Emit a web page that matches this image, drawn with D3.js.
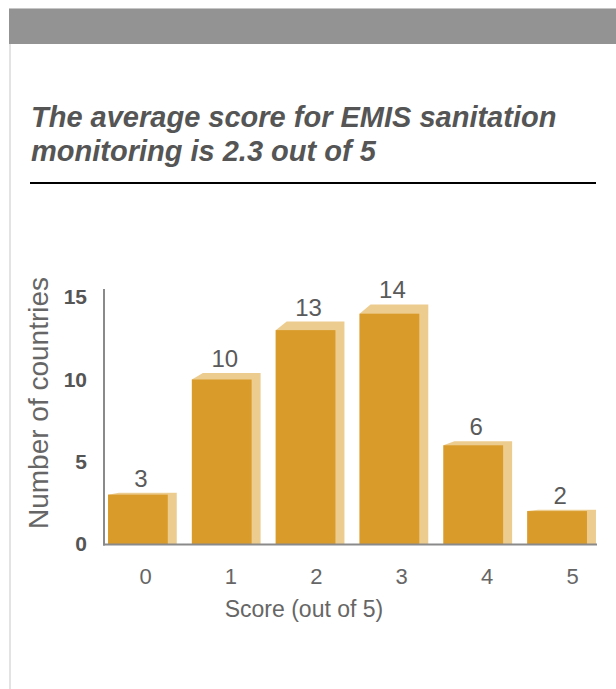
<!DOCTYPE html>
<html>
<head>
<meta charset="utf-8">
<style>
    body { margin: 0; background: #fff; font-family: "Liberation Sans", Arial, sans-serif; }
    svg { display: block; }
</style>
</head>
<body>
<script src="https://cdn.jsdelivr.net/npm/d3@7"></script>
<script>
    // chart data
    const scores = ["0", "1", "2", "3", "4", "5"]
    const counts = [3, 10, 13, 14, 6, 2]
    const yTicks = [0, 5, 10, 15]
    const titleLines = ["The average score for EMIS sanitation", "monitoring is 2.3 out of 5"]
    const xTitle = "Score (out of 5)"
    const yTitle = "Number of countries"

    var width = 616, height = 689
    var plotBase = 544, plotTop = 289
    var frontColor = "#d99b2a", sideColor = "#edcd8f"
    var depth = 9, lift = 0.04

    var svg = d3.select("body").append("svg")
        .attr("width", width)
        .attr("height", height)

    // card frame
    svg.append("line")
        .attr("x1", 10).attr("x2", 10).attr("y1", 8).attr("y2", height)
        .attr("stroke", "#e3e3e3").attr("stroke-width", 2)
    svg.append("rect")
        .attr("x", 9).attr("y", 8).attr("width", width - 9).attr("height", 36)
        .attr("fill", "#939393")
    svg.append("line")
        .attr("x1", 9).attr("x2", width).attr("y1", 8.5).attr("y2", 8.5)
        .attr("stroke", "#c6c6c6")

    // title
    svg.selectAll("text.title")
        .data(titleLines)
        .enter().append("text")
        .attr("class", "title")
        .attr("x", 31)
        .attr("y", (d, i) => 127 + i * 34)
        .style("font-size", "29px")
        .style("font-weight", "bold")
        .style("font-style", "italic")
        .style("fill", "#555")
        .text(d => d)

    svg.append("line")
        .attr("x1", 30).attr("x2", 596).attr("y1", 183).attr("y2", 183)
        .attr("stroke", "#000").attr("stroke-width", 2)

    // scales
    var data = scores.map((s, i) => ({score: s, count: counts[i]}))

    var x = d3.scaleBand()
        .domain(scores)
        .range([103, 601])
        .paddingInner(0.18)
        .paddingOuter(0.06)

    var xLabel = d3.scalePoint()
        .domain(scores)
        .range([145, 572])

    var y = d3.scaleLinear()
        .domain([0, 15.5])
        .range([plotBase, plotTop])

    var frontWidth = x.bandwidth() - depth

    // bars: light side/top face behind, front face on top
    var bars = svg.selectAll(".bar")
        .data(data)
        .enter().append("g")
        .attr("class", "bar")

    bars.append("path")
        .attr("fill", sideColor)
        .attr("d", d => {
            var x0 = x(d.score), x1 = x0 + frontWidth
            var yf = y(d.count), ys = y(d.count * (1 + lift))
            return `M${x0},${yf}L${x0 + 11},${ys}L${x1 + depth},${ys}L${x1 + depth},${plotBase}L${x0},${plotBase}Z`
        })

    bars.append("rect")
        .attr("fill", frontColor)
        .attr("x", d => x(d.score))
        .attr("y", d => y(d.count))
        .attr("width", frontWidth)
        .attr("height", d => plotBase - y(d.count))

    bars.append("text")
        .attr("x", d => x(d.score) + frontWidth / 2 + 3)
        .attr("y", d => y(d.count * (1 + lift)) - 6)
        .attr("text-anchor", "middle")
        .style("font-size", "24px")
        .style("fill", "#5a5a5a")
        .text(d => d.count)

    // axis lines
    svg.append("line")
        .attr("x1", 104).attr("x2", 104).attr("y1", plotTop).attr("y2", plotBase + 1.5)
        .attr("stroke", "#8a8a8a").attr("stroke-width", 2)
    svg.append("line")
        .attr("x1", 103).attr("x2", 597).attr("y1", plotBase + 0.5).attr("y2", plotBase + 0.5)
        .attr("stroke", "#8a8a8a").attr("stroke-width", 2)

    // x ticks
    var xAxis = svg.append("g")
        .attr("transform", `translate(0,${plotBase})`)
        .call(d3.axisBottom(xLabel).tickSize(0).tickPadding(24))
    xAxis.select(".domain").remove()
    xAxis.selectAll("text")
        .style("font-size", "22px")
        .style("font-family", "'Liberation Sans', Arial, sans-serif")
        .style("fill", "#666")

    // y ticks
    var yAxis = svg.append("g")
        .attr("transform", "translate(104,0)")
        .call(d3.axisLeft(y).tickValues(yTicks).tickSize(0).tickPadding(17))
    yAxis.select(".domain").remove()
    yAxis.selectAll("text")
        .style("font-size", "21px")
        .style("font-weight", "bold")
        .style("font-family", "'Liberation Sans', Arial, sans-serif")
        .style("fill", "#555")

    // axis titles
    svg.append("text")
        .attr("x", 304)
        .attr("y", 617)
        .attr("text-anchor", "middle")
        .style("font-size", "23px")
        .style("fill", "#666")
        .text(xTitle)

    svg.append("text")
        .attr("transform", "translate(48,403) rotate(-90)")
        .attr("text-anchor", "middle")
        .style("font-size", "28px")
        .style("fill", "#666")
        .text(yTitle)
</script>
</body>
</html>
